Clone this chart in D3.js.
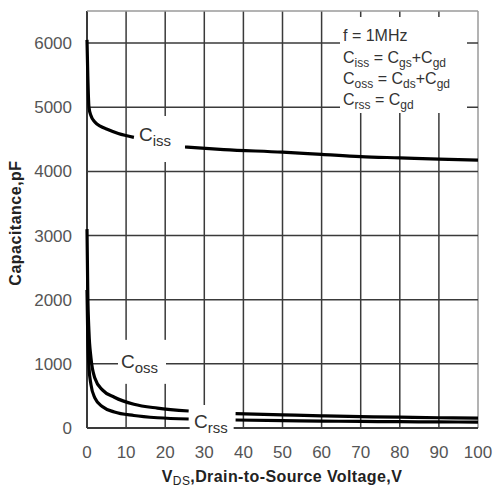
<!DOCTYPE html>
<html><head><meta charset="utf-8">
<script src="https://cdn.jsdelivr.net/npm/d3@7"></script>
<style>body{margin:0;background:#fff;}svg{display:block;font-family:"Liberation Sans",Arial,sans-serif;}</style>
</head><body>
<svg id="c" width="493" height="487"></svg>
<script>
const xTicks = [0,10,20,30,40,50,60,70,80,90,100];
const yTicks = [0,1000,2000,3000,4000,5000,6000];
// Ciss, split by label gap
const cissA_V = [0,0.2,0.5,1,2,3.5,5,8,12];
const cissA_C = [6050,5500,5000,4870,4770,4700,4660,4590,4530];
const cissB_V = [25,35,50,60,70,80,90,100];
const cissB_C = [4380,4340,4300,4265,4230,4210,4190,4175];
const cossA_V = [0,0.2,0.5,1,2,4,7,12,18,26];
const cossA_C = [3100,2100,1500,1100,780,590,480,370,310,265];
const cossB_V = [38,50,60,70,80,90,100];
const cossB_C = [225,205,190,178,168,160,155];
const crssA_V = [0,0.2,0.5,1,2,4,7,12,18,26];
const crssA_C = [2150,1400,950,680,470,330,250,195,160,140];
const crssB_V = [38,50,60,70,80,90,100];
const crssB_C = [125,115,108,102,98,95,92];

const svg = d3.select("#c");
const x = d3.scaleLinear().domain([0,100]).range([87,478]);
const y = d3.scaleLinear().domain([0,6500]).range([428,11]);

// grid
const g = svg.append("g");
g.selectAll("line.v").data(xTicks).join("line")
  .attr("x1",d=>x(d)).attr("x2",d=>x(d)).attr("y1",y(6500)).attr("y2",y(0))
  .attr("stroke",d=>d===100?"#9a9a9a":"#3a3a3a").attr("stroke-width",d=>d===0?2:1.5);
g.selectAll("line.h").data(yTicks.concat([6500])).join("line")
  .attr("x1",x(0)).attr("x2",x(100)).attr("y1",d=>y(d)).attr("y2",d=>y(d))
  .attr("stroke",d=>d===6500?"#9a9a9a":"#3a3a3a").attr("stroke-width",d=>d===0?2:1.5);

// curves
const line = d3.line().x(d=>x(d[0])).y(d=>y(d[1])).curve(d3.curveMonotoneX);
const series = [[cissA_V,cissA_C],[cissB_V,cissB_C],[cossA_V,cossA_C],[cossB_V,cossB_C],[crssA_V,crssA_C],[crssB_V,crssB_C]];
series.forEach(([vs,cs])=>{
  svg.append("path").attr("d",line(vs.map((v,i)=>[v,cs[i]])))
    .attr("fill","none").attr("stroke","#000").attr("stroke-width",3.2);
});

// curve labels with white masks
function clabel(cx, cy, sub, rect){
  svg.append("rect").attr("x",rect[0]).attr("y",rect[1]).attr("width",rect[2]).attr("height",rect[3]).attr("fill","#fff");
  const t = svg.append("text").attr("x",cx).attr("y",cy).attr("fill","#333").attr("font-size",19);
  t.append("tspan").text("C");
  t.append("tspan").attr("font-size",15).attr("dy",5).text(sub);
}
clabel(139, 141, "iss", [x(12)+1, 116, 50, 46]);
clabel(121, 368, "oss", [118, y(1000)-24, 48, 44]);
clabel(194, 428, "rss", [x(26)+1, 405, 44, 40]);

// legend box
svg.append("rect").attr("x",340).attr("y",17).attr("width",127).attr("height",96).attr("fill","#fff");
function eq(yy, parts){
  const t = svg.append("text").attr("x",343).attr("y",yy).attr("fill","#333").attr("font-size",16);
  parts.forEach(p=>{
    const s = t.append("tspan").text(p[0]);
    if(p[1]){ s.attr("font-size",12).attr("dy",4); }
    else if(p[2]){ s.attr("dy",-4); }
  });
}
eq(41, [["f = 1MHz"]]);
eq(63, [["C"],["iss",1],[" = C",0,1],["gs",1],["+C",0,1],["gd",1]]);
eq(84, [["C"],["oss",1],[" = C",0,1],["ds",1],["+C",0,1],["gd",1]]);
eq(105,[["C"],["rss",1],[" = C",0,1],["gd",1]]);

// tick labels
svg.append("g").selectAll("text").data(xTicks).join("text")
  .attr("x",d=>x(d)).attr("y",458).attr("text-anchor","middle")
  .attr("fill","#555").attr("font-size",17).text(d=>d);
svg.append("g").selectAll("text").data(yTicks).join("text")
  .attr("x",72).attr("y",d=>y(d)+6).attr("text-anchor","end")
  .attr("fill","#555").attr("font-size",17).text(d=>d);

// axis titles
const xt = svg.append("text").attr("x",282).attr("y",482).attr("text-anchor","middle")
  .attr("font-weight","bold").attr("font-size",16).attr("letter-spacing",0.4).attr("fill","#222");
xt.append("tspan").text("V");
xt.append("tspan").attr("font-size",12).attr("font-weight","normal").attr("dy",3).text("DS");
xt.append("tspan").attr("dy",-3).text(",Drain-to-Source Voltage,V");
svg.append("text").attr("transform","translate(21,223) rotate(-90)").attr("text-anchor","middle")
  .attr("font-weight","bold").attr("font-size",16).attr("letter-spacing",0.5).attr("fill","#222").text("Capacitance,pF");
</script>
</body></html>
